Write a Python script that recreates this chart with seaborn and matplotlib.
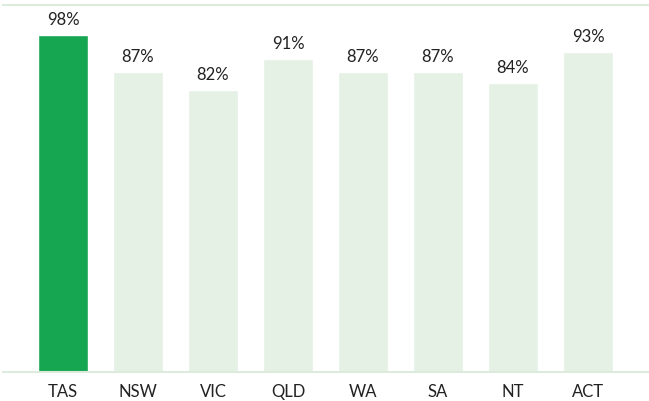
import pandas as pd
import matplotlib.pyplot as plt
import seaborn as sns

states = ['TAS', 'NSW', 'VIC', 'QLD', 'WA', 'SA', 'NT', 'ACT']
values = [98, 87, 82, 91, 87, 87, 84, 93]
highlight = 'TAS'

df = pd.DataFrame({'state': states, 'value': values})

sns.set_style('white')
plt.rcParams['font.family'] = ['Lato', 'DejaVu Sans']

colors = ['#16A651' if s == highlight else '#E4F1E4' for s in states]

fig = plt.figure(figsize=(6.49, 4.01), dpi=100)
ax = fig.add_axes([3 / 649, (401 - 371.7) / 401, 645 / 649, (371.7 - 5) / 401])
sns.barplot(data=df, x='state', y='value', hue='state', palette=colors,
            width=0.667, saturation=1, legend=False, ax=ax)

ax.set_xlim(-0.8, 7.8)
ax.set_ylim(0, 106.6)
ax.set_xlabel('')
ax.set_ylabel('')
ax.set_yticks([])
ax.tick_params(axis='x', length=0, pad=9, labelsize=12, colors='#222222')

for side in ['left', 'right']:
    ax.spines[side].set_visible(False)
for side in ['top', 'bottom']:
    ax.spines[side].set_color('#DDEBDD')
    ax.spines[side].set_linewidth(1.5)

# value labels above each bar
for i, v in enumerate(values):
    ax.annotate('%d%%' % v, (i, v), xytext=(0, 5), textcoords='offset points',
                ha='center', va='bottom', fontsize=12, color='#222222')

fig.savefig('out.png', dpi=100)
